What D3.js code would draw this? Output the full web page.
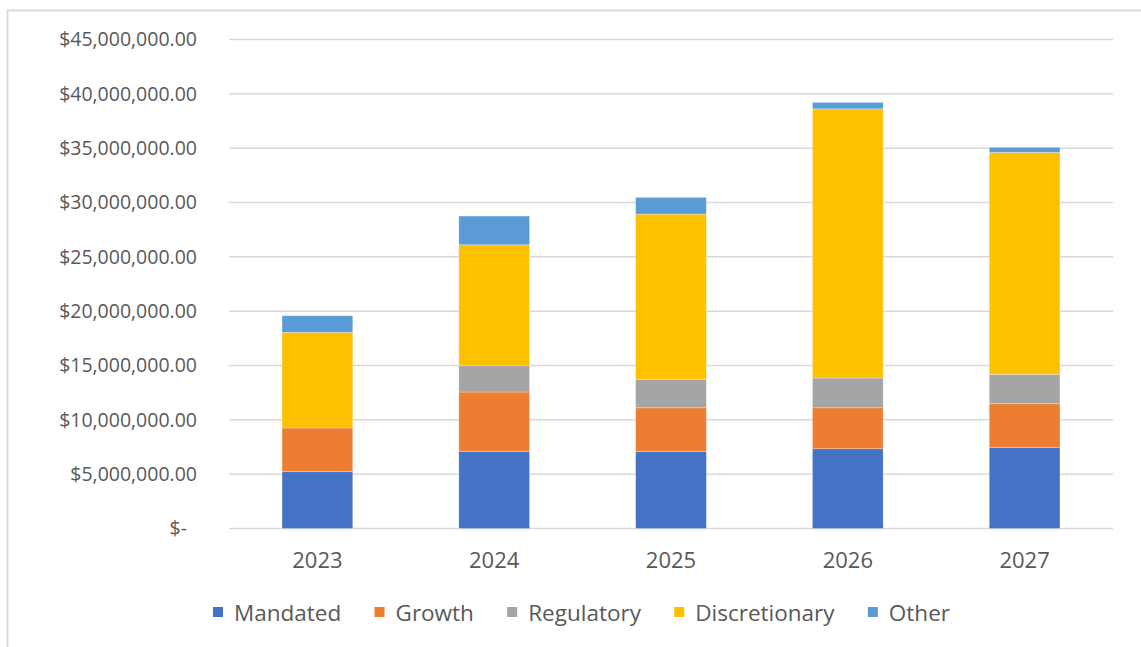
<!DOCTYPE html>
<html>
<head>
<meta charset="utf-8">
<script src="https://cdn.jsdelivr.net/npm/d3@7"></script>
<style>
  body { margin: 0; background: #fff; }
  svg text { font-family: "Open Sans", sans-serif; fill: #595959; }
</style>
</head>
<body>
<div id="chart"></div>
<script>
var svgWidth = 1141;
var svgHeight = 647;

var margin = { top: 39.5, right: 28, bottom: 118.5, left: 229 };
var chartWidth = svgWidth - margin.left - margin.right;
var chartHeight = svgHeight - margin.top - margin.bottom;

// data (millions of dollars)
var years = ["2023", "2024", "2025", "2026", "2027"];
var seriesNames = ["Mandated", "Growth", "Regulatory", "Discretionary", "Other"];
var colors = ["#4472C4", "#ED7D31", "#A5A5A5", "#FFC000", "#5B9BD5"];

var mandated = [5.23, 7.10, 7.10, 7.34, 7.47];
var growth = [4.02, 5.46, 4.01, 3.77, 4.01];
var regulatory = [0, 2.42, 2.62, 2.74, 2.71];
var discretionary = [8.80, 11.13, 15.20, 24.77, 20.42];
var other = [1.53, 2.64, 1.54, 0.59, 0.46];

var yTicks = [0, 5, 10, 15, 20, 25, 30, 35, 40, 45];

var rows = years.map(function (y, i) {
  return {
    year: y,
    Mandated: mandated[i] * 1e6,
    Growth: growth[i] * 1e6,
    Regulatory: regulatory[i] * 1e6,
    Discretionary: discretionary[i] * 1e6,
    Other: other[i] * 1e6
  };
});

var svg = d3.select("#chart")
  .append("svg")
  .attr("width", svgWidth)
  .attr("height", svgHeight);

// chart frame (only top and left edges show in the picture)
svg.append("path")
  .attr("d", "M7.5," + svgHeight + "V10.5H" + svgWidth)
  .attr("fill", "none")
  .attr("stroke", "#d9d9d9")
  .attr("stroke-width", 2);

var chartGroup = svg.append("g")
  .attr("transform", `translate(${margin.left}, ${margin.top})`);

var xScale = d3.scaleBand()
  .domain(years)
  .range([0, chartWidth])
  .paddingInner(0.6)
  .paddingOuter(0.3);

var yScale = d3.scaleLinear()
  .domain([0, 45e6])
  .range([chartHeight, 0]);

// gridlines
chartGroup.append("g")
  .selectAll("line")
  .data(yTicks)
  .enter()
  .append("line")
  .attr("x1", 0)
  .attr("x2", chartWidth)
  .attr("y1", d => yScale(d * 1e6))
  .attr("y2", d => yScale(d * 1e6))
  .attr("stroke", "#d9d9d9")
  .attr("stroke-width", 1.5);

var moneyFmt = d3.format(",.2f");
var leftAxis = d3.axisLeft(yScale)
  .tickValues(yTicks.map(d => d * 1e6))
  .tickSize(0)
  .tickPadding(32)
  .tickFormat(d => d === 0 ? "$-" : "$" + moneyFmt(d));

var yAxis = chartGroup.append("g").call(leftAxis);
yAxis.select(".domain").remove();
yAxis.selectAll("text")
  .attr("font-size", "19.5px")
  .attr("fill", "#595959");
// "$-" sits a bit left in the picture
yAxis.selectAll("text").filter(d => d === 0).attr("dx", "-10");

var bottomAxis = d3.axisBottom(xScale).tickSize(0).tickPadding(24);
var xAxis = chartGroup.append("g")
  .attr("transform", `translate(0, ${chartHeight})`)
  .call(bottomAxis);
xAxis.select(".domain").remove();
xAxis.selectAll("text")
  .attr("font-size", "22px")
  .attr("fill", "#595959");

// stacked bars
var stacked = d3.stack().keys(seriesNames)(rows);

chartGroup.append("g")
  .selectAll("g")
  .data(stacked)
  .enter()
  .append("g")
  .attr("fill", (d, i) => colors[i])
  .selectAll("rect")
  .data(d => d)
  .enter()
  .append("rect")
  .attr("x", d => xScale(d.data.year))
  .attr("width", xScale.bandwidth())
  .attr("y", d => yScale(d[1]))
  .attr("height", d => yScale(d[0]) - yScale(d[1]))
  .attr("stroke", "rgba(255,255,255,0.35)")
  .attr("stroke-width", 0.8);

// legend
var legend = svg.append("g")
  .attr("transform", "translate(0, 613)");

var items = legend.selectAll("g")
  .data(seriesNames)
  .enter()
  .append("g");

items.append("rect")
  .attr("width", 10)
  .attr("height", 10)
  .attr("y", -6)
  .attr("fill", (d, i) => colors[i]);

items.append("text")
  .attr("x", 21)
  .attr("y", 0)
  .attr("dy", "0.35em")
  .attr("font-size", "22.5px")
  .text(d => d);

var widths = [];
items.each(function () {
  widths.push(21 + d3.select(this).select("text").node().getComputedTextLength());
});
// spread the items between the first square and the last word, as in the picture
var legendLeft = 213, legendRight = 950;
var gap = (legendRight - legendLeft - d3.sum(widths)) / (widths.length - 1);
var pos = legendLeft;
items.attr("transform", function (d, i) {
  var t = `translate(${pos}, 0)`;
  pos += widths[i] + gap;
  return t;
});
</script>
</body>
</html>
